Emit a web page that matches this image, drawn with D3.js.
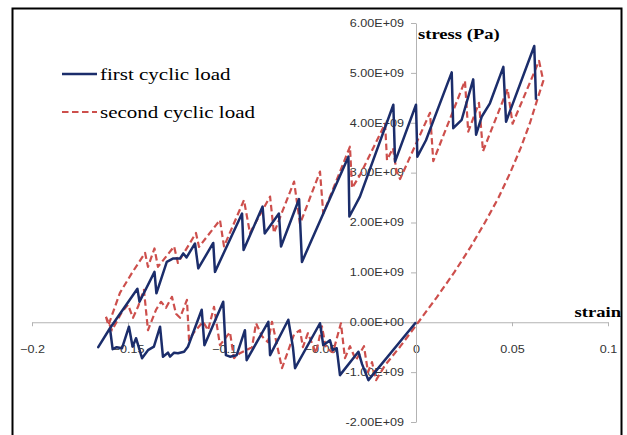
<!DOCTYPE html>
<html lang="en">
<head>
<meta charset="utf-8">
<title>cyclic load</title>
<script src="https://cdn.jsdelivr.net/npm/d3@7/dist/d3.min.js"></script>
<style>
  body { margin: 0; background: #fff; }
</style>
</head>
<body>
<div id="chart"></div>
<script>
// strain / stress (stress in units of 1E+09 Pa)
var strainFirst = [0, -0.0248, -0.0281, -0.0300, -0.0396, -0.0413, -0.0434, -0.0448, -0.0483, -0.0500,
  -0.0630, -0.0641, -0.0665, -0.0760, -0.0769, -0.0882, -0.0891, -0.0934, -0.0969, -0.0990,
  -0.1004, -0.1102, -0.1116, -0.1188, -0.1208, -0.1240, -0.1260, -0.1281, -0.1292, -0.1318,
  -0.1333, -0.1365, -0.1396, -0.1427, -0.1458, -0.1476, -0.1495, -0.1531, -0.1559, -0.1580,
  -0.1594, -0.1655, -0.1594, -0.1451, -0.1440, -0.1362, -0.1352, -0.1298, -0.1264, -0.1229,
  -0.1212, -0.1195, -0.1151, -0.1134, -0.1056, -0.1047, -0.0906, -0.0898, -0.0799, -0.0788,
  -0.0714, -0.0703, -0.0609, -0.0594, -0.0352, -0.0347, -0.0292, -0.0118, -0.0109, 0,
  0.0007, 0.0052, 0.0186, 0.0194, 0.0238, 0.0298, 0.0313, 0.0342, 0.0385, 0.0455,
  0.0469, 0.0616, 0.0625];
var stressFirst = [0, -1.16, -0.84, -0.59, -1.06, -0.52, -0.56, -0.36, -0.46, -0.02,
  -0.92, -0.50, 0.05, -0.66, 0.01, -0.76, -0.16, -0.66, -0.69, -0.66,
  0.41, -0.46, 0.25, -0.49, -0.59, -0.62, -0.61, -0.69, -0.61, -0.69,
  -0.09, -0.49, -0.56, -0.72, -0.32, -0.49, -0.09, -0.52, -0.50, -0.54,
  -0.12, -0.50, -0.12, 0.67, 0.41, 1.01, 0.58, 1.21, 1.28, 1.28,
  1.38, 1.30, 1.58, 1.08, 1.59, 1.01, 2.18, 1.45, 2.32, 1.78,
  2.18, 1.52, 2.47, 1.21, 3.32, 2.12, 2.52, 4.36, 3.22, 4.36,
  3.32, 3.65, 5.01, 3.89, 4.06, 4.87, 3.76, 4.12, 4.39, 5.12,
  4.02, 5.54, 4.46];

var strainSecond = [-0.1615, -0.1602, -0.1542, -0.1479, -0.1411, -0.1396, -0.1362, -0.1344, -0.1307, -0.1260,
  -0.1240, -0.1146, -0.1130, -0.1094, -0.1021, -0.1000, -0.0896, -0.0865, -0.0760, -0.0740,
  -0.0635, -0.0604, -0.0500, -0.0483, -0.0344, -0.0333, -0.0292, -0.0161, -0.0151, -0.0120,
  -0.0101, -0.0083, 0.0073, 0.0090, 0.0255, 0.0272, 0.0328, 0.0349, 0.0477, 0.0503,
  0.0641, 0.0663,
  0.0628, 0.0594, 0.0546, 0.0491, 0.0430, 0.0359, 0.0283, 0.0199, 0.0108, 0.0012, -0.0083, -0.0161,
  -0.0208, -0.0229, -0.0250, -0.0271, -0.0313, -0.0344, -0.0370, -0.0391, -0.0432, -0.0469,
  -0.0490, -0.0521, -0.0563, -0.0589, -0.0604, -0.0635, -0.0698, -0.0750, -0.0771, -0.0802,
  -0.0833, -0.0854, -0.0917, -0.0948, -0.0969, -0.1021, -0.1052, -0.1083, -0.1109, -0.1156,
  -0.1182, -0.1193, -0.1229, -0.1250, -0.1271, -0.1302, -0.1328, -0.1354, -0.1396, -0.1417,
  -0.1448, -0.1474, -0.1500, -0.1531, -0.1583, -0.1615];
var stressSecond = [0.11, -0.06, 0.59, 0.99, 1.39, 1.11, 1.48, 1.11, 1.29, 1.52,
  1.19, 1.79, 1.51, 1.69, 2.05, 1.52, 2.45, 1.79, 2.52, 1.79,
  2.82, 1.97, 3.02, 2.18, 3.52, 2.69, 2.95, 3.98, 3.25, 3.49,
  3.02, 2.87, 4.20, 3.23, 4.84, 3.82, 4.40, 3.43, 4.68, 3.98,
  5.24, 4.84,
  4.42, 4.00, 3.50, 3.00, 2.50, 2.00, 1.50, 1.00, 0.50, 0, -0.49, -0.86,
  -1.16, -0.80, -1.00, -0.48, -0.76, -0.48, -0.72, -0.02, -0.60, -0.52,
  -0.08, -0.62, -0.22, -0.50, -0.16, -0.24, -0.92, 0.01, -0.40, -0.28,
  -0.02, -0.50, -0.62, -0.72, -0.20, -0.46, 0.31, -0.16, 0.01, -0.20,
  -0.36, 0.45, 0.09, 0.17, 0.51, 0.29, 0.41, 0.25, -0.16, 0.65,
  0.31, 0.09, 0.35, 0.21, -0.16, 0.11];

var seriesNames = ["first cyclic load", "second cyclic load"];
var xTicks = [-0.2, -0.15, -0.1, -0.05, 0, 0.05, 0.1];
var yTicks = [-2, -1, 0, 1, 2, 3, 4, 5, 6];

var W = 627, H = 435;
var stretch = 1.2; // text in the picture is a bit wider than tall

var svg = d3.select("#chart").append("svg")
    .attr("width", W)
    .attr("height", H);

svg.append("rect")
    .attr("x", 12.5).attr("y", 8.5)
    .attr("width", 609).attr("height", 440)
    .attr("fill", "#fff")
    .attr("stroke", "#000")
    .attr("stroke-width", 2);

var x = d3.scaleLinear().domain([-0.2, 0.1]).range([32, 608]);
var y = d3.scaleLinear().domain([-2, 6]).range([422, 23]);

function fmtY(v) {
    if (v === 0) return "0.00E+00";
    return (v < 0 ? "-" : "") + Math.abs(v).toFixed(2) + "E+09";
}

// x axis through stress = 0
var gx = svg.append("g")
    .attr("transform", "translate(0," + y(0) + ")")
    .call(d3.axisBottom(x).tickValues(xTicks).tickSize(4).tickSizeOuter(0)
        .tickPadding(19).tickFormat(function(d) { return d3.format("")(d); }));

// y axis through strain = 0
var gy = svg.append("g")
    .attr("transform", "translate(" + x(0) + ",0)")
    .call(d3.axisLeft(y).tickValues(yTicks).tickSize(5).tickSizeOuter(0)
        .tickPadding(7).tickFormat(fmtY));

[gx, gy].forEach(function(g) {
    g.select(".domain").attr("stroke", "#b3b3b3");
    g.selectAll(".tick line").attr("stroke", "#b3b3b3");
    g.selectAll(".tick text")
        .attr("fill", "#333")
        .style("font-family", "'Liberation Sans', Arial, sans-serif")
        .style("font-size", "10.5px");
});
gy.selectAll(".tick text")
    .attr("x", -12 / stretch)
    .attr("transform", "scale(" + stretch + ",1)");
gx.selectAll(".tick text")
    .attr("transform", "scale(" + stretch + ",1)");

var line = d3.line()
    .x(function(d) { return x(d[0]); })
    .y(function(d) { return y(d[1]); });

var blue = "#1b2d6b", red = "#cd4f4c";

svg.append("path")
    .datum(d3.zip(strainSecond, stressSecond))
    .attr("d", line)
    .attr("fill", "none")
    .attr("stroke", red)
    .attr("stroke-width", 2.2)
    .attr("stroke-dasharray", "6.5,3.5")
    .attr("stroke-linejoin", "round");

svg.append("path")
    .datum(d3.zip(strainFirst, stressFirst))
    .attr("d", line)
    .attr("fill", "none")
    .attr("stroke", blue)
    .attr("stroke-width", 2.5)
    .attr("stroke-linejoin", "round");

function stretchedText(px, py, str, size, weight, anchor) {
    svg.append("text")
        .attr("transform", "translate(" + px + "," + py + ") scale(" + stretch + ",1)")
        .attr("text-anchor", anchor || "start")
        .style("font-family", "'Liberation Serif', 'Times New Roman', serif")
        .style("font-size", size + "px")
        .style("font-weight", weight || "normal")
        .attr("fill", "#000")
        .text(str);
}

// axis titles
stretchedText(418, 39, "stress (Pa)", 15.5, "bold");
stretchedText(621, 317, "strain", 15.5, "bold", "end");

// legend
var legend = svg.selectAll(".leyenda")
    .data(seriesNames)
    .enter().append("g")
    .attr("class", "leyenda")
    .attr("transform", function(d, i) { return "translate(62," + (74 + i * 38) + ")"; });

legend.append("line")
    .attr("x1", 0).attr("x2", 35)
    .attr("stroke", function(d, i) { return i === 0 ? blue : red; })
    .attr("stroke-width", function(d, i) { return i === 0 ? 2.5 : 2.2; })
    .attr("stroke-dasharray", function(d, i) { return i === 0 ? null : "6.5,3.5"; });

legend.append("text")
    .attr("transform", "translate(38,6) scale(" + stretch + ",1)")
    .style("font-family", "'Liberation Serif', 'Times New Roman', serif")
    .style("font-size", "17.5px")
    .attr("fill", "#000")
    .text(function(d) { return d; });
</script>
</body>
</html>
